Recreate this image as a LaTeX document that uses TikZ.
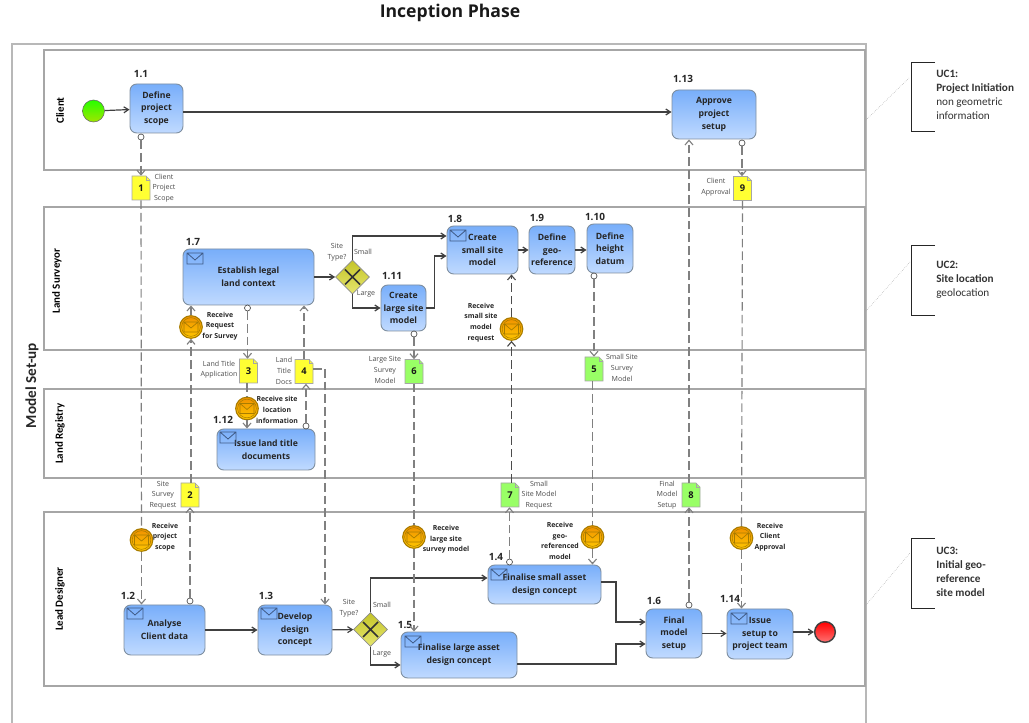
\documentclass[tikz,border=0pt]{standalone}
\usepackage{fontspec}
\setmainfont{Open Sans}
\newfontfamily\carlito{Carlito}
\usetikzlibrary{arrows.meta,shapes.geometric}
\definecolor{lanegray}{HTML}{A6A6A6}
\definecolor{flowgray}{HTML}{404040}
\definecolor{taskedge}{HTML}{7F8FA0}
\definecolor{tasktop}{HTML}{78AEFA}
\definecolor{taskbot}{HTML}{C0DAFF}
\definecolor{envblue}{HTML}{3F5A85}
\definecolor{docyellow}{HTML}{FFFF33}
\definecolor{docgreen}{HTML}{99FF66}
\definecolor{gatetop}{HTML}{C4C428}
\definecolor{gatebot}{HTML}{E6E66E}
\definecolor{evedge}{HTML}{A87C00}
\definecolor{evtop}{HTML}{F09000}
\definecolor{evbot}{HTML}{FFC800}
\tikzset{
  x=0.75pt,y=-0.75pt,
  lane/.style={draw=lanegray,line width=1.4pt},
  lanename/.style={rotate=90,font=\carlito\fontsize{8.2}{9}\selectfont\bfseries},
  taskbox/.style={draw=taskedge,line width=0.7pt,rounded corners=5pt,top color=tasktop,bottom color=taskbot,
    align=center,font=\fontsize{6.5}{9.5}\selectfont\bfseries,inner sep=0pt,text=black!85},
  tasknum/.style={font=\fontsize{7.5}{9}\selectfont\bfseries,text=black!85,inner sep=0pt},
  flow/.style={draw=flowgray,line width=0.9pt,-{Straight Barb[length=3.5pt,width=4.5pt]}},
  msg/.style={draw=gray,line width=0.85pt,dash pattern=on 6.5pt off 3pt,-{Straight Barb[length=3.5pt,width=6pt]}},
  msgblack/.style={msg,draw=black!70},
  plainmsg/.style={draw=gray,line width=0.85pt,dash pattern=on 6.5pt off 3pt},
  srccircle/.style={circle,draw=black!70,fill=white,line width=0.5pt,minimum size=4.5pt,inner sep=0pt},
  small/.style={font=\fontsize{5.3}{8}\selectfont,align=center,inner sep=0pt,text=black!70},
  evtext/.style={font=\fontsize{5.2}{8}\selectfont\bfseries,align=center,inner sep=0pt,text=black!85},
  gateway/.style={diamond,aspect=1,draw=black!45,line width=0.5pt,top color=gatetop,bottom color=gatebot,minimum size=25.5pt,inner sep=0pt},
  event/.style={circle,draw=evedge,line width=0.8pt,top color=evtop,bottom color=evbot,minimum size=17pt,inner sep=0pt},
  docbox/.style={font=\fontsize{7}{8}\selectfont\bfseries,inner sep=0pt,text=black!90},
  ucbrace/.style={draw=black!85,line width=0.75pt},
  uctext/.style={font=\carlito\fontsize{8.4}{10.5}\selectfont,align=left,anchor=north west,inner sep=0pt,text=black!80},
  uclink/.style={draw=gray!70,line width=0.4pt,densely dotted}
}
% note shape with a folded corner
\newcommand{\docnode}[5]{%
  \fill[#5,draw=gray!70,line width=0.5pt] (#2-9,#3-12) -- (#2+5,#3-12) -- (#2+9,#3-8) -- (#2+9,#3+12) -- (#2-9,#3+12) -- cycle;
  \draw[gray!70,line width=0.4pt] (#2+5,#3-12) -- (#2+5,#3-8) -- (#2+9,#3-8);
  \node[docbox,minimum width=13.5pt,minimum height=18pt] (#1) at (#2,#3) {#4};
}
% small envelope in a task corner
\newcommand{\envnode}[2]{%
  \draw[envblue,line width=0.6pt] (#1,#2) rectangle +(16,11) (#1,#2) -- +(8,7) -- +(16,0);
}
% catching message event
\newcommand{\evnode}[3]{%
  \node[event] (#1) at (#2,#3) {};
  \draw[evedge,line width=0.4pt] (#1) circle (7pt);
  \draw[evedge,line width=0.5pt] (#2-7,#3-5) rectangle (#2+7,#3+5) (#2-7,#3-5) -- (#2,#3+1) -- (#2+7,#3-5);
}
\begin{document}
\begin{tikzpicture}
  \useasboundingbox (0,0) rectangle (1029,723);
  \node[font=\fontsize{13.2}{15}\selectfont\bfseries,text=black!90] (title) at (450,13) {Inception Phase};
  \draw[draw=lanegray!80,line width=1pt] (12,723) -- (12,44) -- (866,44) -- (866,723);
  \node[rotate=90,font=\carlito\fontsize{11.4}{12}\selectfont\bfseries,text=black!85] (setup) at (32,385.5) {Model Set-up};
  % lanes
  \draw[lane] (44,50) rectangle (865,170);
  \draw[lane] (44,207) rectangle (865,350);
  \draw[lane] (44,389) rectangle (865,478);
  \draw[lane] (44,512) rectangle (865,686);
  \node[lanename] (lclient) at (60,110.5) {Client};
  \node[lanename] (lsurvey) at (57,281) {Land Surveyor};
  \node[lanename] (lregistry) at (60,433.5) {Land Registry};
  \node[lanename] (ldesign) at (60,599) {Lead Designer};

  % start and end
  \node[circle,draw=black!60,line width=0.4pt,top color=green!85!yellow,bottom color=yellow!70!green!90!black,minimum size=16.5pt,inner sep=0pt] (start) at (93.5,111) {};
  \node[circle,draw=black!75,line width=1.1pt,top color=red,bottom color=red!55!white,minimum size=15.5pt,inner sep=0pt] (finish) at (825,632) {};

  % tasks
  \node[taskbox,minimum width=39.75pt,minimum height=36.75pt] (t11) at (156.5,108.5) {Define\\project\\scope};
  \node[taskbox,minimum width=63pt,minimum height=36.75pt] (t113) at (714,114.5) {Approve\\project\\setup};
  \node[taskbox,minimum width=98.25pt,minimum height=42pt] (t17) at (248.5,277) {Establish legal\\land context};
  \node[taskbox,minimum width=53.25pt,minimum height=36pt] (t18) at (482.5,250) {Create\\small site\\model};
  \node[taskbox,minimum width=34.5pt,minimum height=36pt] (t19) at (552,250) {Define\\geo-\\reference};
  \node[taskbox,minimum width=34.5pt,minimum height=36.75pt] (t110) at (610,248.5) {Define\\height\\datum};
  \node[taskbox,minimum width=33.75pt,minimum height=34.5pt] (t111) at (403.5,308) {Create\\large site\\model};
  \node[taskbox,minimum width=73.5pt,minimum height=30.75pt] (t112) at (266,449.5) {Issue land title\\documents};
  \node[taskbox,minimum width=60.75pt,minimum height=37.5pt] (t12) at (164.5,630) {Analyse\\Client data};
  \node[taskbox,minimum width=55.5pt,minimum height=37.5pt] (t13) at (295,630) {Develop\\design\\concept};
  \node[taskbox,minimum width=84.75pt,minimum height=29.25pt] (t14) at (544.5,584.5) {Finalise small asset\\design concept};
  \node[taskbox,minimum width=87pt,minimum height=34.5pt] (t15) at (459,655) {Finalise large asset\\design concept};
  \node[taskbox,minimum width=42pt,minimum height=36.75pt] (t16) at (674,633.5) {Final\\model\\setup};
  \node[taskbox,minimum width=49.5pt,minimum height=37.5pt] (t114) at (760,634) {Issue\\setup to\\project team};
  \envnode{187}{253}
  \envnode{450}{230}
  \envnode{220}{432}
  \envnode{127}{608}
  \envnode{261}{608}
  \envnode{491}{569}
  \envnode{405}{636}
  \envnode{731}{613}

  % numbers
  \node[tasknum] (n11) at (141,74) {1.1};
  \node[tasknum] (n113) at (683,79) {1.13};
  \node[tasknum] (n17) at (193,242) {1.7};
  \node[tasknum] (n18) at (455,219) {1.8};
  \node[tasknum] (n19) at (537,218) {1.9};
  \node[tasknum] (n110) at (595,217) {1.10};
  \node[tasknum] (n111) at (392,276) {1.11};
  \node[tasknum] (n112) at (223,420) {1.12};
  \node[tasknum] (n12) at (128,596) {1.2};
  \node[tasknum] (n13) at (266,596) {1.3};
  \node[tasknum] (n14) at (496,557) {1.4};
  \node[tasknum] (n15) at (405,625) {1.5};
  \node[tasknum] (n16) at (654,601) {1.6};
  \node[tasknum] (n114) at (730,599) {1.14};

  % gateways
  \node[gateway] (gwa) at (352.5,277) {};
  \node[gateway] (gwb) at (370.5,629.5) {};
  \draw[black!80,line width=1.2pt] (345,269.5) -- (360,284.5) (345,284.5) -- (360,269.5);
  \draw[black!80,line width=1.2pt] (363,622) -- (378,637) (363,637) -- (378,622);
  \node[small] (gwatxt) at (337,252) {Site\\Type?};
  \node[small] (gwasm) at (363,252) {Small};
  \node[small] (gwalg) at (366,294) {Large};
  \node[small] (gwbtxt) at (349,608) {Site\\Type?};
  \node[small] (gwbsm) at (382,605) {Small};
  \node[small] (gwblg) at (382,654) {Large};

  % flows
  \draw[flow] (start) -- (t11);
  \draw[flow] (t11.east |- 0,112) -- (t113.west |- 0,112);
  \draw[flow] (t17) -- (gwa);
  \draw[flow] (gwa.north) |- (t18.west |- 0,236);
  \draw[flow] (gwa.south) |- (t111.west);
  \draw[flow] (t111.east) -- ++(8,0) |- (t18.west |- 0,256);
  \draw[flow] (t18) -- (t19);
  \draw[flow] (t19) -- (t110.west |- t19);
  \draw[flow] (t12) -- (t13);
  \draw[flow] (t13) -- (gwb);
  \draw[flow] (gwb.north) |- (t14.west |- 0,578);
  \draw[flow] (gwb.south) |- (t15.west |- 0,665);
  \draw[flow] (t14.east |- 0,582) -- (616,582) |- (t16.west |- 0,622);
  \draw[flow] (t15.east |- 0,664) -- (616,664) |- (t16.west |- 0,644);
  \draw[flow] (t16) -- (t114.west |- t16);
  \draw[flow] (t114.east |- finish) -- (finish);

  % events
  \evnode{ev17}{191}{327}
  \evnode{ev112}{247}{408.5}
  \evnode{ev18}{511.5}{329}
  \evnode{ev12}{141.5}{540}
  \evnode{ev15}{414}{537}
  \evnode{ev14}{592.5}{537}
  \evnode{ev114}{741.5}{538}
  \node[evtext] (ev17txt) at (220,326) {Receive\\Request\\for Survey};
  \node[evtext] (ev112txt) at (277,410) {Receive site\\location\\information};
  \node[evtext] (ev18txt) at (481,322.5) {Receive\\small site\\model\\request};
  \node[evtext] (ev12txt) at (165,537) {Receive\\project\\scope};
  \node[evtext] (ev15txt) at (446,539.5) {Receive\\large site\\survey model};
  \node[evtext] (ev14txt) at (560,541) {Receive\\geo-\\referenced\\model};
  \node[evtext] (ev114txt) at (770,537) {Receive\\Client\\Approval};

  % message documents
  \docnode{d1}{141}{188}{1}{docyellow}
  \docnode{d2}{190}{495}{2}{docyellow}
  \docnode{d3}{248.5}{371}{3}{docyellow}
  \docnode{d4}{304}{371.5}{4}{docyellow}
  \docnode{d5}{594}{369}{5}{docgreen}
  \docnode{d6}{414}{371.5}{6}{docgreen}
  \docnode{d7}{510}{495}{7}{docgreen}
  \docnode{d8}{691}{495}{8}{docgreen}
  \docnode{d9}{742.5}{188.5}{9}{docyellow}
  \node[small] (d1txt) at (164,188) {Client\\Project\\Scope};
  \node[small] (d2txt) at (163,495) {Site\\Survey\\Request};
  \node[small] (d3txt) at (219,369.5) {Land Title\\Application};
  \node[small] (d4txt) at (284,371) {Land\\Title\\Docs};
  \node[small] (d5txt) at (622,368) {Small Site\\Survey\\Model};
  \node[small] (d6txt) at (385,370) {Large Site\\Survey\\Model};
  \node[small] (d7txt) at (539,495) {Small\\Site Model\\Request};
  \node[small] (d8txt) at (667,495) {Final\\Model\\Setup};
  \node[small] (d9txt) at (716,187) {Client\\Approval};

  % source circles
  \node[srccircle] (c11) at (141,137) {};
  \node[srccircle] (c113) at (742,143) {};
  \node[srccircle] (c17) at (247.5,308) {};
  \node[srccircle] (c110) at (594,276) {};
  \node[srccircle] (c111) at (414,334) {};
  \node[srccircle] (c112) at (306,426) {};
  \node[srccircle] (c12) at (190,601) {};
  \node[srccircle] (c14) at (509.5,562) {};
  \node[srccircle] (c16) at (689,605) {};

  % message flows
  \draw[msg] (c11) -- (d1.north);
  \draw[plainmsg] (d1.south) -- (ev12);
  \draw[msg] (ev12) -- (t12.north -| ev12);
  \draw[msg] (c12) -- (d2.south);
  \draw[msg] (d2.north -| ev17) -- (ev17);
  \draw[msg] (ev17) -- (t17.south -| ev17);
  \draw[msg] (c17) -- (d3.north -| c17);
  \draw[plainmsg] (d3.south -| ev112) -- (ev112);
  \draw[msg] (ev112) -- (t112.north -| ev112);
  \draw[msg] (c112) -- (d4.south -| c112);
  \draw[msg] (d4.north) -- (t17.south -| d4);
  \coordinate (d4turn) at (325,369);
  \draw[plainmsg] (d4.east |- d4turn) -- (d4turn);
  \draw[msg] (d4turn) -- (t13.north -| d4turn);
  \draw[msg] (c111) -- (d6.north);
  \draw[plainmsg] (d6.south) -- (ev15);
  \draw[msg] (ev15) -- (t15.north -| ev15);
  \draw[msg] (c110) -- (d5.north);
  \draw[plainmsg] (d5.south -| ev14) -- (ev14);
  \draw[msg] (ev14) -- (t14.north -| ev14);
  \draw[msg] (c14) -- (d7.south -| c14);
  \draw[msgblack] (d7.north -| ev18) -- (ev18);
  \draw[msgblack] (ev18) -- (t18.south -| ev18);
  \draw[msg] (c16) -- (d8.south -| c16);
  \draw[msg] (d8.north -| c16) -- (t113.south -| c16);
  \draw[msg] (c113) -- (d9.north -| c113);
  \draw[plainmsg] (d9.south) -- (ev114);
  \draw[msg] (ev114) -- (t114.north -| ev114);

  % use case notes
  \coordinate (uca) at (866,120);
  \coordinate (ucb) at (866,311);
  \coordinate (ucc) at (866,605);
  \draw[ucbrace] (935,63) -- (911.5,63) -- (911.5,132) -- (935,132);
  \draw[ucbrace] (935,246) -- (911.5,246) -- (911.5,316) -- (935,316);
  \draw[ucbrace] (935,539) -- (911.5,539) -- (911.5,609) -- (935,609);
  \draw[uclink] (uca) -- (909,78);
  \draw[uclink] (ucb) -- (910,262);
  \draw[uclink] (ucc) -- (910,553);
  \node[uctext] (uc1) at (936,70) {\textbf{UC1:}\\\textbf{Project Initiation}\\non geometric\\information};
  \node[uctext] (uc2) at (936,261) {\textbf{UC2:}\\\textbf{Site location}\\geolocation};
  \node[uctext] (uc3) at (936,547) {\textbf{UC3:}\\\textbf{Initial geo-}\\\textbf{reference}\\\textbf{site model}};
\end{tikzpicture}
\end{document}
